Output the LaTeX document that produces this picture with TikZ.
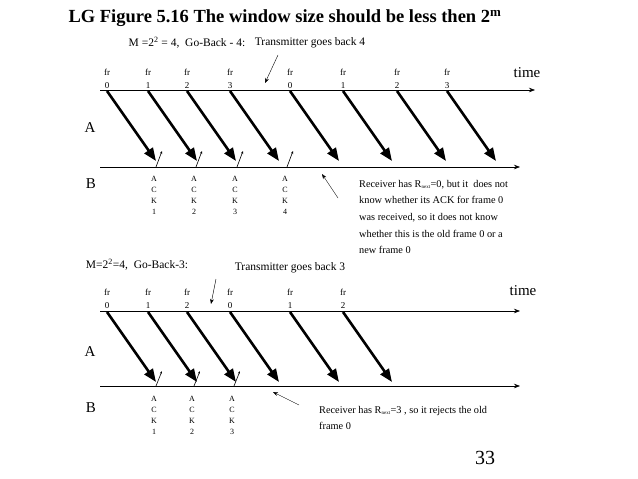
\documentclass[tikz,border=0pt]{standalone}
\usepackage{fontspec}
\setmainfont{Liberation Serif}
\usetikzlibrary{arrows.meta, positioning}

\begin{document}
\begin{tikzpicture}[x=1pt, y=-1pt,
    frame/.style={-{Triangle[length=13pt,width=10pt]}, line width=2.6pt},
    ack/.style={-{Stealth[length=3pt]}, semithick},
    axis/.style={-{Stealth[length=6pt]}, semithick},
    small/.style={font=\fontsize{9}{9}\selectfont, align=center, inner sep=0pt},
    tag/.style={font=\fontsize{8}{8}\selectfont, align=center, inner sep=0pt},
    note/.style={font=\fontsize{10.3}{16.6}\selectfont, align=left, anchor=north west, inner sep=0pt},
    head/.style={font=\fontsize{11.5}{12}\selectfont},
    side/.style={font=\fontsize{15}{15}\selectfont}
]
    \useasboundingbox (0,0) rectangle (638,479);

    % Title
    \node[font=\bfseries\fontsize{18.5}{19}\selectfont] (title) at (285,18)
        {LG Figure 5.16 The window size should be less then 2\textsuperscript{m}};

    % Go-Back-4
    \node[head] (hdrA) at (187,43) {M =2\textsuperscript{2} = 4,\ \ Go-Back - 4:};
    \node[head] (backA) at (310,43) {Transmitter goes back 4};
    \coordinate (a0) at (100,90);  \coordinate (a1) at (535,90);
    \coordinate (b0) at (100,167); \coordinate (b1) at (520,167);
    \draw[axis] (a0) -- (a1);
    \draw[axis] (b0) -- (b1);
    \node[side] (timeA) at (527,73) {time};
    \node[side] (lblA) at (90,128) {A};
    \node[side] (lblB) at (91,184) {B};
    \foreach \x/\n [count=\i] in {107/0,148/1,187/2,230/3,290/0,343/1,397/2,447/3} {
        \node[small] (frA\i) at (\x,79) {fr\\[4pt]\n};
        \coordinate (sA\i) at (\x,91);
        \coordinate (eA\i) at (\x+49,161);
        \draw[frame] (sA\i) -- (eA\i);
    }
    \foreach \x/\n in {156/1,196/2,237/3,287/4} {
        \coordinate (kA\n) at (\x,167);
        \coordinate (tA\n) at (\x+6,151);
        \draw[ack] (kA\n) -- (tA\n);
        \node[tag, anchor=north] (ackA\n) at (\x-2,176) {A\\[3pt]C\\[3pt]K\\[3pt]\n};
    }
    \coordinate (pA) at (278,55);
    \coordinate (qA) at (265,83);
    \draw[-{Stealth[length=5pt]}] (pA) -- (qA);
    \node[note] (rcvA) at (359,180) {Receiver has R\textsubscript{\fontsize{5}{5}\selectfont next}=0, but it\ \ does not\\
        know whether its ACK for frame 0\\ was received, so it does not know\\
        whether this is the old frame 0 or a\\ new frame 0};
    \coordinate (uA) at (338,198);
    \coordinate (vA) at (322,174);
    \draw[-{Stealth[length=5pt]}] (uA) -- (vA);

    % Go-Back-3
    \node[head] (hdrB) at (137,265) {M=2\textsuperscript{2}=4,\ \ Go-Back-3:};
    \node[head] (backB) at (290,268) {Transmitter goes back 3};
    \coordinate (c0) at (100,311); \coordinate (c1) at (520,311);
    \coordinate (d0) at (100,386); \coordinate (d1) at (520,386);
    \draw[axis] (c0) -- (c1);
    \draw[axis] (d0) -- (d1);
    \node[side] (timeB) at (523,291) {time};
    \node[side] (lblC) at (90,352) {A};
    \node[side] (lblD) at (91,408) {B};
    \foreach \x/\n [count=\i] in {107/0,148/1,187/2,230/0,290/1,343/2} {
        \node[small] (frB\i) at (\x,299) {fr\\[4pt]\n};
        \coordinate (sB\i) at (\x,312);
        \coordinate (eB\i) at (\x+49,382);
        \draw[frame] (sB\i) -- (eB\i);
    }
    \foreach \x/\n in {156/1,194/2,234/3} {
        \coordinate (kB\n) at (\x,386);
        \coordinate (tB\n) at (\x+6,371);
        \draw[ack] (kB\n) -- (tB\n);
        \node[tag, anchor=north] (ackB\n) at (\x-2,396) {A\\[3pt]C\\[3pt]K\\[3pt]\n};
    }
    \coordinate (pB) at (216,279);
    \coordinate (qB) at (211,304);
    \draw[-{Stealth[length=5pt]}] (pB) -- (qB);
    \node[note] (rcvB) at (319,406) {Receiver has R\textsubscript{\fontsize{5}{5}\selectfont next}=3 , so it rejects the old\\ frame 0};
    \coordinate (uB) at (299,405);
    \coordinate (vB) at (273,392);
    \draw[-{Stealth[length=5pt]}] (uB) -- (vB);

    % Page number
    \node[font=\fontsize{20}{20}\selectfont] (page) at (485,458) {33};
\end{tikzpicture}
\end{document}
